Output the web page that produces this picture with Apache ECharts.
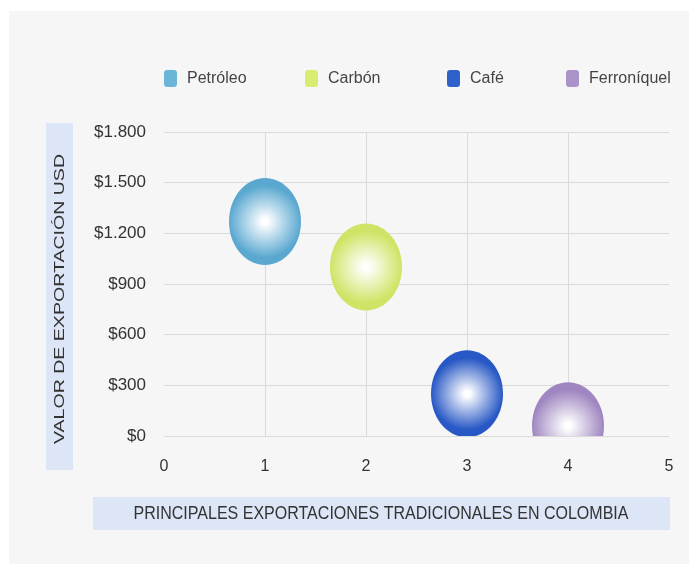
<!DOCTYPE html>
<html>
<head>
<meta charset="utf-8">
<script src="https://cdn.jsdelivr.net/npm/echarts@6/dist/echarts.min.js"></script>
<style>
  html, body { margin: 0; padding: 0; background: #ffffff; }
  #chart { width: 697px; height: 572px; }
</style>
</head>
<body>
<div id="chart"></div>
<script>
// Principales exportaciones tradicionales de Colombia (valor en USD)
var categories = ['Petróleo', 'Carbón', 'Café', 'Ferroníquel'];
var xPositions = [1, 2, 3, 4];
var exportValues = [1270, 1000, 250, 60];
var yTicks = { min: 0, max: 1800, step: 300 };
var xTicks = { min: 0, max: 5, step: 1 };

var edgeColors = ['#5aa8d0', '#cfe466', '#2858c5', '#9f86c0'];
var legendColors = ['#6bb5d9', '#d8ec72', '#2f61cb', '#a993c9'];
var legendLefts = [164, 305, 447, 566];
var BG = '#f6f6f6';
var BOX = '#dde6f6';
var FONT = 'Liberation Sans, Arial, sans-serif';

function money(v) {
  return '$' + String(v).replace(/\B(?=(\d{3})+(?!\d))/g, '.');
}

function bubbleFill(color) {
  return {
    type: 'radial', x: 0.5, y: 0.5, r: 0.5,
    colorStops: [
      { offset: 0, color: '#ffffff' },
      { offset: 0.08, color: '#ffffff' },
      { offset: 1, color: color }
    ]
  };
}

// Elliptical bubbles, clipped to the plotting area
function bubbleRenderer(color) {
  return function (params, api) {
    var p = api.coord([api.value(0), api.value(1)]);
    return {
      type: 'ellipse',
      shape: { cx: p[0], cy: p[1], rx: 36, ry: 43.5 },
      style: { fill: bubbleFill(color) }
    };
  };
}

var series = categories.map(function (name, i) {
  return {
    name: name,
    type: 'custom',
    clip: true,
    z: 2,
    renderItem: bubbleRenderer(edgeColors[i]),
    itemStyle: { color: legendColors[i] },
    encode: { x: 0, y: 1 },
    data: [[xPositions[i], exportValues[i]]]
  };
});

var legends = categories.map(function (name, i) {
  return {
    left: legendLefts[i],
    top: 70,
    padding: 0,
    icon: 'roundRect',
    itemWidth: 13,
    itemHeight: 17,
    selectedMode: false,
    textStyle: { fontFamily: FONT, fontSize: 16, color: '#444444', padding: [0, 0, 0, 5] },
    data: [{ name: name, itemStyle: { color: legendColors[i] } }]
  };
});

var chart = echarts.init(document.getElementById('chart'), null, { renderer: 'canvas' });

chart.setOption({
  animation: false,
  backgroundColor: '#ffffff',
  legend: legends,
  grid: { left: 164, right: 28, top: 132, bottom: 136, containLabel: false },
  xAxis: {
    type: 'value',
    min: xTicks.min, max: xTicks.max, interval: xTicks.step,
    axisLine: { show: false },
    axisTick: { show: false },
    axisLabel: { margin: 23, color: '#333333', fontSize: 16, fontFamily: FONT },
    splitLine: { show: true, showMinLine: false, showMaxLine: false, lineStyle: { color: '#dadada', width: 1 } }
  },
  yAxis: {
    type: 'value',
    min: yTicks.min, max: yTicks.max, interval: yTicks.step,
    axisLine: { show: false },
    axisTick: { show: false },
    axisLabel: { margin: 18, color: '#333333', fontSize: 17, fontFamily: FONT, formatter: money },
    splitLine: { show: true, lineStyle: { color: '#dadada', width: 1 } }
  },
  graphic: [
    { type: 'rect', z: -10, silent: true, shape: { x: 9, y: 11, width: 680, height: 553 }, style: { fill: BG } },
    // y axis title
    { type: 'rect', z: 1, silent: true, shape: { x: 46, y: 123, width: 27, height: 347 }, style: { fill: BOX } },
    {
      type: 'text', z: 3, silent: true,
      x: 60, y: 299, rotation: Math.PI / 2, scaleX: 1.15, scaleY: 0.85,
      style: {
        text: 'VALOR DE EXPORTACIÓN USD',
        fill: '#333333', fontSize: 17, fontFamily: FONT,
        align: 'center', verticalAlign: 'middle'
      }
    },
    // x axis title
    { type: 'rect', z: 1, silent: true, shape: { x: 93, y: 497, width: 577, height: 33 }, style: { fill: BOX } },
    {
      type: 'text', z: 3, silent: true,
      x: 381, y: 514, scaleX: 0.89,
      style: {
        text: 'PRINCIPALES EXPORTACIONES TRADICIONALES EN COLOMBIA',
        fill: '#333333', fontSize: 18, fontFamily: FONT,
        align: 'center', verticalAlign: 'middle'
      }
    }
  ],
  series: series
});
</script>
</body>
</html>
